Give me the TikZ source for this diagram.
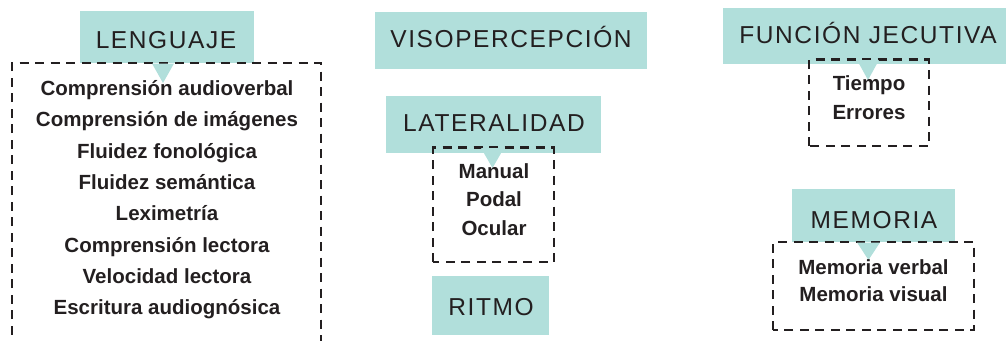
\documentclass[tikz,border=0pt]{standalone}
\usepackage{fontspec}
\setmainfont{Liberation Sans}
\newfontfamily\headfont[LetterSpace=6.5]{Liberation Sans}
\newfontfamily\itemfont{Liberation Sans}[BoldFont={Liberation Sans Bold}]
\definecolor{tealc}{HTML}{B1DFDB}
\definecolor{inkc}{HTML}{231F20}
\begin{document}
\begin{tikzpicture}[x=1pt,y=-1pt,
  tealbox/.style={fill=tealc,draw=none,inner sep=0pt,outer sep=0pt},
  dashbox/.style={draw=inkc,line width=2.7pt,dash pattern=on 9pt off 6.5pt,inner sep=0pt,outer sep=0pt,fill=none},
  headtxt/.style={anchor=base,inner sep=0pt,text=inkc,font=\headfont\fontsize{24.5}{29}\selectfont},
  itemtxt/.style={anchor=base,inner sep=0pt,text=inkc,font=\itemfont\bfseries\fontsize{20.5}{24}\selectfont},
  pointer/.style={fill=tealc,draw=none}]
\useasboundingbox (0,0) rectangle (1006,340);
% teal heading boxes
\node[tealbox,minimum width=174pt,minimum height=52pt] (lengbox) at (167,37) {};
\node[tealbox,minimum width=272pt,minimum height=57pt] (visobox) at (511,40.5) {};
\node[tealbox,minimum width=215pt,minimum height=57pt] (latbox) at (493.5,124.5) {};
\node[tealbox,minimum width=117pt,minimum height=59pt] (ritbox) at (490.5,305.5) {};
\node[tealbox,minimum width=285pt,minimum height=56pt] (funbox) at (865.5,36) {};
\node[tealbox,minimum width=163pt,minimum height=53pt] (membox) at (873.5,215.5) {};
% heading texts
\node[headtxt] (lengtxt) at (166,48) {LENGUAJE};
\node[headtxt] (visotxt) at (511,47.7) {VISOPERCEPCIÓN};
\node[headtxt] (lattxt) at (494,131.7) {LATERALIDAD};
\node[headtxt] (rittxt) at (491,315) {RITMO};
\node[headtxt] (funtxt) at (868,43.3) {FUNCIÓN JECUTIVA};
\node[headtxt] (memtxt) at (874,228.3) {MEMORIA};
% dashed boxes
\draw[dashbox] (12,350) -- (12,63) -- (321,63) -- (321,350);
\draw[dashbox] (433,262) -- (433,147.5) -- (554,147.5) -- (554,262) -- cycle;
\draw[dashbox] (809,146) -- (809,59.5) -- (929,59.5) -- (929,146) -- cycle;
\draw[dashbox] (773,330) -- (773,242) -- (974,242) -- (974,330) -- cycle;
% pointers
\fill[pointer] (152,63.5) -- (174,63.5) -- (163,83) -- cycle;
\fill[pointer] (481,148) -- (504,148) -- (492.5,168) -- cycle;
\fill[pointer] (857,60) -- (879,60) -- (868,80) -- cycle;
\fill[pointer] (857,242.5) -- (880,242.5) -- (868.5,260) -- cycle;
% item lists
\foreach \t [count=\i from 0] in {Comprensión audioverbal,Comprensión de imágenes,Fluidez fonológica,Fluidez semántica,Leximetría,Comprensión lectora,Velocidad lectora,Escritura audiognósica}
  \node[itemtxt] (leng\i) at (167,95.5+31.3*\i) {\t};
\node[itemtxt] (lat0) at (494,178.3) {Manual};
\node[itemtxt] (lat1) at (494,206.7) {Podal};
\node[itemtxt] (lat2) at (494,235) {Ocular};
\node[itemtxt] (fun0) at (869,90.7) {Tiempo};
\node[itemtxt] (fun1) at (869,119) {Errores};
\node[itemtxt] (mem0) at (873.5,274) {Memoria verbal};
\node[itemtxt] (mem1) at (873.5,301.7) {Memoria visual};
\end{tikzpicture}
\end{document}
